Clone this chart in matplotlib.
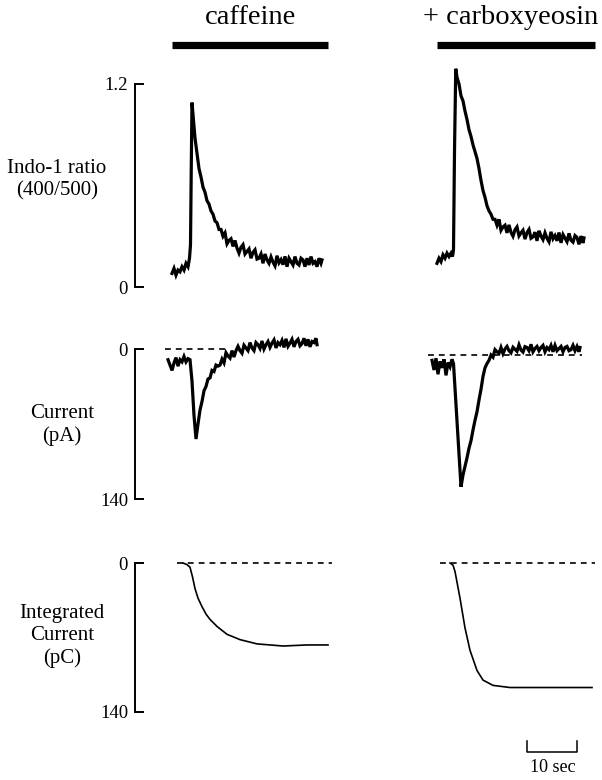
import matplotlib
matplotlib.use('Agg')
import matplotlib.pyplot as plt

plt.rcParams['font.family'] = ['Liberation Serif', 'DejaVu Serif']

W, H = 602, 780

# ---- data (time in sec from the start of each column) ----
# Indo-1 ratio, caffeine alone
ratio_caf_t = [1.4, 1.8, 2.2, 2.6, 3.0, 3.4, 3.8, 4.2, 4.6, 4.9, 5.1, 5.25, 5.4,
               5.6, 6.0, 6.4, 6.8, 7.2, 7.6, 8.0, 8.4, 8.8, 9.2, 9.6, 10.0, 10.4, 10.8,
               11.2, 11.6, 12.0, 12.4, 12.8, 13.2, 13.6, 14.0, 14.4, 14.8, 15.2, 15.6,
               16.0, 16.4, 16.8, 17.2, 17.6, 18.0, 18.4, 18.8, 19.2, 19.6, 20.0, 20.4,
               20.8, 21.2, 21.6, 22.0, 22.4, 22.8, 23.2, 23.6, 24.0, 24.4, 24.8, 25.2,
               25.6, 26.0, 26.4, 26.8, 27.2, 27.6, 28.0, 28.4, 28.8, 29.2, 29.6, 30.0,
               30.4, 30.8, 31.2, 31.4]
ratio_caf = [0.08, 0.11, 0.07, 0.10, 0.09, 0.12, 0.10, 0.14, 0.12, 0.17, 0.25, 0.70, 1.09,
             1.02, 0.88, 0.79, 0.70, 0.65, 0.59, 0.56, 0.51, 0.49, 0.45, 0.43, 0.39, 0.38, 0.34,
             0.34, 0.30, 0.32, 0.255, 0.275, 0.285, 0.24, 0.275, 0.23, 0.20, 0.235, 0.25,
             0.195, 0.21, 0.225, 0.17, 0.205, 0.22, 0.165, 0.17, 0.195, 0.14, 0.195, 0.16,
             0.14, 0.178, 0.147, 0.125, 0.185, 0.143, 0.162, 0.132, 0.181, 0.12, 0.17, 0.15,
             0.13, 0.18, 0.14, 0.13, 0.17, 0.16, 0.12, 0.17, 0.13, 0.18, 0.14, 0.15,
             0.12, 0.17, 0.14, 0.16]

# Indo-1 ratio, caffeine + carboxyeosin
ratio_ce_t = [1.8, 2.2, 2.6, 3.0, 3.4, 3.8, 4.2, 4.6, 4.9, 5.1, 5.3, 5.55,
              5.8, 6.2, 6.6, 7.0, 7.4, 7.8, 8.2, 8.6, 9.0, 9.4, 9.8, 10.2, 10.6,
              11.0, 11.4, 11.8, 12.2, 12.6, 13.0, 13.4, 13.8, 14.2, 14.6, 15.0, 15.4,
              15.8, 16.2, 16.6, 17.0, 17.4, 17.8, 18.2, 18.6, 19.0, 19.4, 19.8, 20.2,
              20.6, 21.0, 21.4, 21.8, 22.2, 22.6, 23.0, 23.4, 23.8, 24.2, 24.6, 25.0,
              25.4, 25.8, 26.2, 26.6, 27.0, 27.4, 27.8, 28.2, 28.6, 29.0, 29.4, 29.8,
              30.2, 30.6, 31.0, 31.2]
ratio_ce = [0.14, 0.17, 0.15, 0.19, 0.17, 0.20, 0.18, 0.20, 0.18, 0.22, 0.80, 1.29,
            1.24, 1.20, 1.13, 1.10, 1.04, 0.99, 0.93, 0.89, 0.84, 0.80, 0.76, 0.70, 0.63,
            0.57, 0.53, 0.48, 0.45, 0.43, 0.40, 0.40, 0.365, 0.40, 0.335, 0.355, 0.365,
            0.32, 0.367, 0.323, 0.30, 0.338, 0.355, 0.302, 0.32, 0.335, 0.283, 0.321, 0.34,
            0.288, 0.296, 0.324, 0.273, 0.332, 0.301, 0.28, 0.32, 0.288, 0.267, 0.326, 0.285,
            0.304, 0.273, 0.322, 0.261, 0.31, 0.289, 0.268, 0.317, 0.276, 0.265, 0.304, 0.293,
            0.252, 0.301, 0.26, 0.29]

# membrane current (pA, inward plotted downward)
curr_caf_t = [0.6, 1.0, 1.4, 1.8, 2.2, 2.6, 3.0, 3.4, 3.8, 4.2, 4.6, 5.0, 5.4, 5.8, 6.2,
              6.6, 7.0, 7.4, 7.8, 8.2, 8.6, 9.0, 9.4, 9.8, 10.2, 10.6, 11.0, 11.4, 11.8,
              12.2, 12.6, 13.0, 13.4, 13.8, 14.2, 14.6, 15.0, 15.4, 15.8, 16.2, 16.6,
              17.0, 17.4, 17.8, 18.2, 18.6, 19.0, 19.4, 19.8, 20.2, 20.6, 21.0, 21.4,
              21.8, 22.2, 22.6, 23.0, 23.4, 23.8, 24.2, 24.6, 25.0, 25.4, 25.8, 26.2,
              26.6, 27.0, 27.4, 27.8, 28.2, 28.6, 29.0, 29.4, 29.8, 30.2, 30.4]
curr_caf = [10, 15, 20, 13, 8, 16, 10, 12, 7, 12, 9, 10, 30, 62, 84,
            70, 57, 49, 39, 35, 28, 27, 20, 21, 15, 16, 15, 9.5, 13,
            3.5, 6.5, 8.5, 1.5, 7.5, 1.5, -2.5, 1.5, 4, -3.5, -1, 1.5,
            -6, -1, 1.5, -6, -4, -0.5, -7.5, 0, -4, -7, -1.5, -5.5,
            -8.5, -1, -6, -4, -8, -1.5, -9.5, -2.5, -5.5, -9, -2, -7,
            -9, -3, -5, -10, -3, -9, -2, -7, -6, -10, -4]

curr_ce_t = [0.8, 1.2, 1.6, 2.0, 2.4, 2.8, 3.2, 3.6, 4.0, 4.4, 4.8, 5.1, 6.6,
             7.0, 7.4, 7.8, 8.2, 8.6, 9.0, 9.4, 9.8, 10.2, 10.6, 11.0, 11.4, 11.8,
             12.2, 12.6, 13.0, 13.4, 13.8, 14.2, 14.6, 15.0, 15.4, 15.8, 16.2, 16.6,
             17.0, 17.4, 17.8, 18.2, 18.6, 19.0, 19.4, 19.8, 20.2, 20.6, 21.0, 21.4,
             21.8, 22.2, 22.6, 23.0, 23.4, 23.8, 24.2, 24.6, 25.0, 25.4, 25.8, 26.2,
             26.6, 27.0, 27.4, 27.8, 28.2, 28.6, 29.0, 29.4, 29.8, 30.2, 30.4]
curr_ce = [5, 14, 3, 18, 6, 12, 4, 19, 7, 11, 4, 8, 123,
           112, 104, 96, 87, 80, 70, 61, 53, 42, 32, 20, 12, 8,
           5, 0, 2, -5, -3, -1.5, -7, -1.3, -5.6, -8, -4, -2,
           -7.2, -5.3, -3.4, -9.5, -4.6, -2.7, -7.8, -7, -4, -10, -3, -6,
           -8, -4, -7, -9, -3, -7, -5, -9, -3, -9, -4, -6,
           -8, -3, -7, -8, -4, -5, -9, -4, -8, -3, -7]

# integrated current (pC)
charge_caf_t = [3.6, 4.4, 5.0, 5.5, 6.0, 6.6, 7.4, 8.2, 9.0, 10.5, 12.4, 15.0, 18.4,
                23.6, 28.4, 32.6]
charge_caf = [0, 1.5, 4, 13, 24, 33, 41, 48, 53, 60, 67, 72, 76, 78, 77, 77]

charge_ce_t = [4.4, 5.0, 5.4, 6.4, 7.4, 8.4, 9.8, 11.0, 13.0, 16.4, 24.0, 32.8]
charge_ce = [0, 2, 8, 33, 61, 82, 101, 110, 115, 117, 117, 117]

# zero-current reference lines (start, end in sec)
zero_curr = {'caf': [0.0, 13.0], 'ce': [0.0, 30.8]}
zero_charge = {'caf': [2.4, 33.4], 'ce': [2.4, 33.4]}

# drug application bars (sec)
caf_bar = [1.4, 32.6]
ce_bar = [1.8, 33.4]
scale_bar = [19.8, 29.8]  # 10 sec

titles = ['caffeine', '+ carboxyeosin']
row_labels = ['Indo-1 ratio\n(400/500)', 'Current\n(pA)', 'Integrated\nCurrent\n(pC)']
row_ticks = [([0, 1.2], ['0', '1.2']), ([0, 140], ['0', '140']), ([0, 140], ['0', '140'])]


def rect(x0, y0, x1, y1):
    return [x0 / W, 1 - y1 / H, (x1 - x0) / W, (y1 - y0) / H]


fig = plt.figure(figsize=(W / 100, H / 100), dpi=100)

# column pixel extents and time origins (5 px per sec)
cols = [(135, 345, 165), (415, 602, 428)]
# row pixel extents, pixel of value 0, px per unit, inverted?
rows = [(55, 300, 287, 169.2, False),
        (335, 515, 349, 150 / 140, True),
        (550, 725, 563, 149 / 140, True)]

axes = [[None, None], [None, None], [None, None]]
for r, (ytop, ybot, y0, ppu, inv) in enumerate(rows):
    for c, (xl, xr, x0) in enumerate(cols):
        yb = y0 + 6 if (r == 1 and c == 1) else y0
        ax = fig.add_axes(rect(xl, ytop, xr, ybot))
        ax.set_xlim((xl - x0) / 5, (xr - x0) / 5)
        if inv:
            ax.set_ylim((ybot - yb) / ppu, (ytop - yb) / ppu)
        else:
            ax.set_ylim((yb - ybot) / ppu, (yb - ytop) / ppu)
        ax.patch.set_visible(False)
        for s in ['top', 'right', 'bottom']:
            ax.spines[s].set_visible(False)
        ax.set_xticks([])
        if c == 0:
            ticks, labels = row_ticks[r]
            ax.spines['left'].set_bounds(ticks[0], ticks[1])
            ax.spines['left'].set_linewidth(1.4)
            ax.set_yticks(ticks)
            ax.set_yticklabels(labels, fontsize=13.5)
            ax.tick_params(axis='y', direction='in', length=6.5, width=1.4, pad=5)
        else:
            ax.spines['left'].set_visible(False)
            ax.set_yticks([])
        axes[r][c] = ax

trace_kw = dict(color='black', lw=2.3, solid_joinstyle='miter')
dash_kw = dict(color='black', lw=1.2, dashes=(3.5, 3))

axes[0][0].plot(ratio_caf_t, ratio_caf, **trace_kw)
axes[0][1].plot(ratio_ce_t, ratio_ce, **trace_kw)

axes[1][0].plot(zero_curr['caf'], [0, 0], **dash_kw)
axes[1][1].plot(zero_curr['ce'], [0, 0], **dash_kw)
axes[1][0].plot(curr_caf_t, curr_caf, **trace_kw)
axes[1][1].plot(curr_ce_t, curr_ce, **trace_kw)

axes[2][0].plot(zero_charge['caf'], [0, 0], **dash_kw)
axes[2][1].plot(zero_charge['ce'], [0, 0], **dash_kw)
axes[2][0].plot(charge_caf_t, charge_caf, color='black', lw=1.2)
axes[2][1].plot(charge_ce_t, charge_ce, color='black', lw=1.2)

# application bars above top row
bar_y = (287 - 45) / 169.2
axes[0][0].plot(caf_bar, [bar_y, bar_y], color='black', lw=5.2, solid_capstyle='butt', clip_on=False)
axes[0][1].plot(ce_bar, [bar_y, bar_y], color='black', lw=5.2, solid_capstyle='butt', clip_on=False)

# 10 sec scale bar
sb_ax = axes[2][1]
yb_line = (752 - 563) / (149 / 140)
yb_tick = (741 - 563) / (149 / 140)
sb_ax.plot([scale_bar[0], scale_bar[0], scale_bar[1], scale_bar[1]],
           [yb_tick, yb_line, yb_line, yb_tick], color='black', lw=1.1, clip_on=False)

# text
fig.text(250 / W, 1 - 17 / H, titles[0], ha='center', va='center', fontsize=20.5)
fig.text(511 / W, 1 - 17 / H, titles[1], ha='center', va='center', fontsize=20.5)
fig.text(57 / W, 1 - 180 / H, row_labels[0], ha='center', va='center', fontsize=15, linespacing=1.25)
fig.text(62 / W, 1 - 425 / H, row_labels[1], ha='center', va='center', fontsize=15, linespacing=1.25)
fig.text(62 / W, 1 - 636 / H, row_labels[2], ha='center', va='center', fontsize=15, linespacing=1.25)
fig.text(553 / W, 1 - 768 / H, '10 sec', ha='center', va='center', fontsize=13)

fig.savefig('out.png', dpi=100)
